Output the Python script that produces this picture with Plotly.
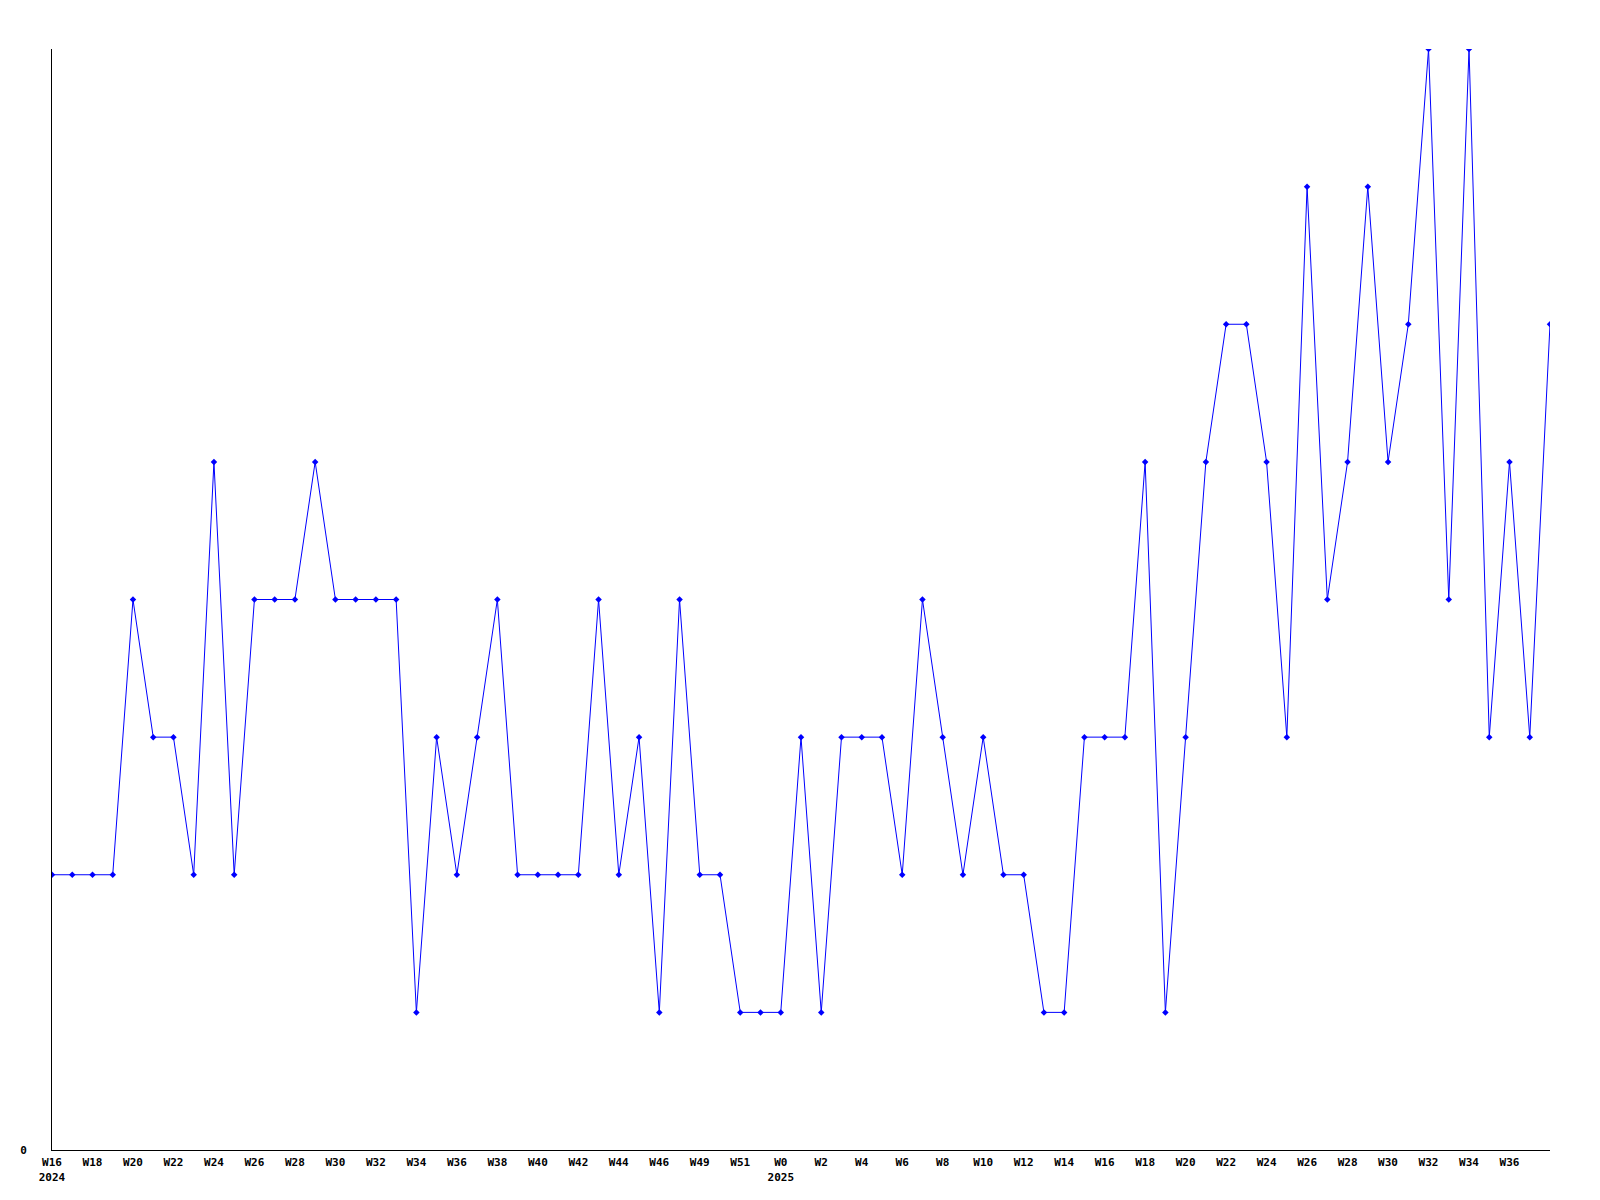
import plotly.graph_objects as go

# weekly buckets, 2024-W16 .. 2025-W38
weeks_2024 = ["W%d" % w for w in range(16, 48)] + ["W49", "W50", "W51", "W52"]
weeks_2025 = ["W%d" % w for w in range(0, 39)]
weeks = weeks_2024 + weeks_2025

counts = [
    2, 2, 2, 2, 4, 3, 3, 2, 5, 2,
    4, 4, 4, 5, 4, 4, 4, 4, 1, 3,
    2, 3, 4, 2, 2, 2, 2, 4, 2, 3,
    1, 4, 2, 2, 1, 1, 1, 3, 1, 3,
    3, 3, 2, 4, 3, 2, 3, 2, 2, 1,
    1, 3, 3, 3, 5, 1, 3, 5, 6, 6,
    5, 3, 7, 4, 5, 7, 5, 6, 8, 4,
    8, 3, 5, 3, 6,
]

# every second week gets a label, year shown under the first week of each year
tick_idx = list(range(0, 73, 2))
tick_text = []
for i in tick_idx:
    lab = weeks[i]
    if i == 0:
        lab += "<br>2024"
    elif i == len(weeks_2024):
        lab += "<br>2025"
    tick_text.append(lab)

x = list(range(len(weeks)))

fig = go.Figure()
fig.add_trace(go.Scatter(
    x=x, y=counts, mode="lines+markers",
    line=dict(color="#0000ff", width=1),
    marker=dict(symbol="diamond", size=5, color="#0000ff"),
    hovertext=weeks,
))

# page body adds ~8px offset, margins compensate
fig.update_layout(
    width=1600, height=1200,
    margin=dict(l=42, r=58, t=41, b=58),
    plot_bgcolor="white", paper_bgcolor="white",
    showlegend=False,
    font=dict(family="DejaVu Sans Mono", size=11, color="black", weight="bold"),
)
fig.update_xaxes(
    range=[0, len(weeks) - 1], tickvals=tick_idx, ticktext=tick_text,
    showgrid=False, zeroline=False, showline=True, linecolor="black", linewidth=1,
    ticks="", ticklabelstandoff=2,
)
fig.update_yaxes(
    range=[0, 8], tickvals=[0], ticktext=["0"],
    showgrid=False, zeroline=False, showline=True, linecolor="black", linewidth=1,
    ticks="", ticklabelstandoff=22,
)

fig.write_html("out.html")
